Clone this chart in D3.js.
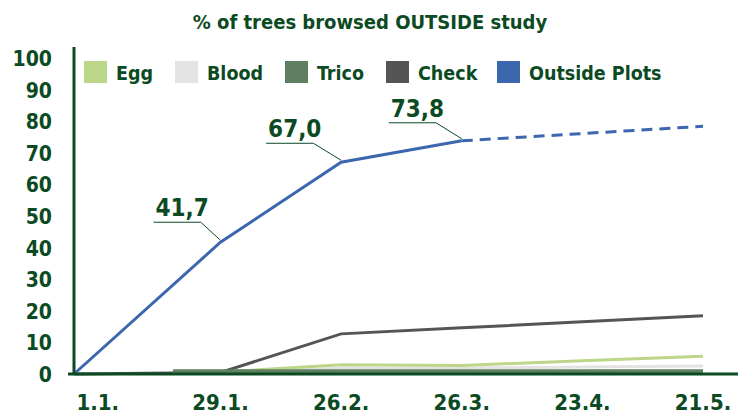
<!DOCTYPE html>
<html><head><meta charset="utf-8">
<script src="https://cdn.jsdelivr.net/npm/d3@7"></script>
<style>body{margin:0;background:#fff}svg{display:block}</style>
</head><body>
<svg id="c" width="747" height="414"></svg>
<script>
const tickDays = [0, 28, 56, 84, 112, 140];
const tickLabels = ["1.1.", "29.1.", "26.2.", "26.3.", "23.4.", "21.5."];
const yTicks = [0, 10, 20, 30, 40, 50, 60, 70, 80, 90, 100];
const seriesNames = ["Egg", "Blood", "Trico", "Check", "Outside Plots"];
const seriesColors = ["#bcd68a", "#e3e3e3", "#5e8060", "#555555", "#3c66ad"];

const eggDays = [28, 56, 84, 112, 140];
const eggVals = [0.6, 2.9, 2.7, 4.2, 5.6];
const bloodDays = [28, 56, 84, 112, 140];
const bloodVals = [0.6, 1.8, 1.9, 2.2, 2.5];
const tricoDays = [17, 28, 56, 84, 112, 140];
const tricoVals = [0.8, 0.8, 0.8, 0.8, 0.8, 0.8];
const checkDays = [-6, 28, 56, 84, 112, 140];
const checkVals = [0, 0.5, 12.7, 14.6, 16.5, 18.4];
const outsideDays = [-6, 28, 56, 84];
const outsideVals = [0, 41.7, 67.0, 73.8];
const projDays = [84, 112, 140];
const projVals = [73.8, 76.1, 78.4];
const labelDays = [28, 56, 84];
const labelVals = [41.7, 67.0, 73.8];

const txt = "#0b4a22";
const font = "'DejaVu Sans Condensed','DejaVu Sans',sans-serif";
const svg = d3.select("#c");
const x = d3.scaleLinear().domain([-6, 140]).range([74, 703]);
const y = d3.scaleLinear().domain([0, 100]).range([374, 58]);

svg.append("text").attr("x", 370).attr("y", 29).attr("text-anchor", "middle")
  .attr("font-family", font).attr("font-weight", "bold").attr("font-size", 20)
  .attr("fill", txt).text("% of trees browsed OUTSIDE study");

// y tick labels
svg.append("g").selectAll("text").data(yTicks).join("text")
  .attr("x", 52).attr("y", d => y(d) + 8).attr("text-anchor", "end")
  .attr("font-family", font).attr("font-weight", "bold").attr("font-size", 21)
  .attr("fill", txt).text(d => d);
// x tick labels
svg.append("g").selectAll("text").data(tickDays).join("text")
  .attr("x", (d, i) => i === 0 ? x(d) - 2 : x(d)).attr("y", 410).attr("text-anchor", "middle")
  .attr("font-family", font).attr("font-weight", "bold").attr("font-size", 22)
  .attr("fill", txt).text((d, i) => tickLabels[i]);

const line = d3.line().x(d => x(d[0])).y(d => y(d[1]));
const pts = (ds, vs) => ds.map((d, i) => [d, vs[i]]);

function draw(ds, vs, color, w, dash) {
  svg.append("path").attr("d", line(pts(ds, vs))).attr("fill", "none")
    .attr("stroke", color).attr("stroke-width", w)
    .attr("stroke-dasharray", dash || null);
}
draw(bloodDays, bloodVals, seriesColors[1], 3);
draw(eggDays, eggVals, seriesColors[0], 3);
draw(checkDays, checkVals, seriesColors[3], 3);
draw(tricoDays, tricoVals, seriesColors[2], 4.5);
draw(outsideDays, outsideVals, seriesColors[4], 3);
draw(projDays, projVals, seriesColors[4], 3, "11,7");

// axes
svg.append("line").attr("x1", 74).attr("x2", 74).attr("y1", 47).attr("y2", 375)
  .attr("stroke", txt).attr("stroke-width", 3);
svg.append("line").attr("x1", 68).attr("x2", 738).attr("y1", y(0)).attr("y2", y(0))
  .attr("stroke", txt).attr("stroke-width", 3);

// data labels with leader lines
const labOffsets = [[-65, -20], [-73, -19], [-71, -18]];
labelDays.forEach((d, i) => {
  const px = x(d), py = y(labelVals[i]);
  const lx = px + labOffsets[i][0], ly = py + labOffsets[i][1];
  const t = svg.append("text").attr("x", lx).attr("y", ly - 6)
    .attr("font-family", font).attr("font-weight", "bold").attr("font-size", 24)
    .attr("fill", txt).text(d3.format(".1f")(labelVals[i]).replace(".", ","));
  const tw = t.node().getComputedTextLength();
  const ex = lx + tw - 8;
  svg.append("path").attr("d", `M${lx - 2},${ly}L${ex},${ly}L${px},${py - 2}`)
    .attr("fill", "none").attr("stroke", txt).attr("stroke-width", 1);
});

// legend
const legX = [84, 175, 285, 386, 497];
const lg = svg.append("g").selectAll("g").data(seriesNames).join("g")
  .attr("transform", (d, i) => `translate(${legX[i]},61)`);
lg.append("rect").attr("width", 23).attr("height", 22).attr("fill", (d, i) => seriesColors[i]);
lg.append("text").attr("x", 32).attr("y", 19).attr("font-family", font)
  .attr("font-weight", "bold").attr("font-size", 19.5).attr("fill", txt).text(d => d);
</script>
</body></html>
